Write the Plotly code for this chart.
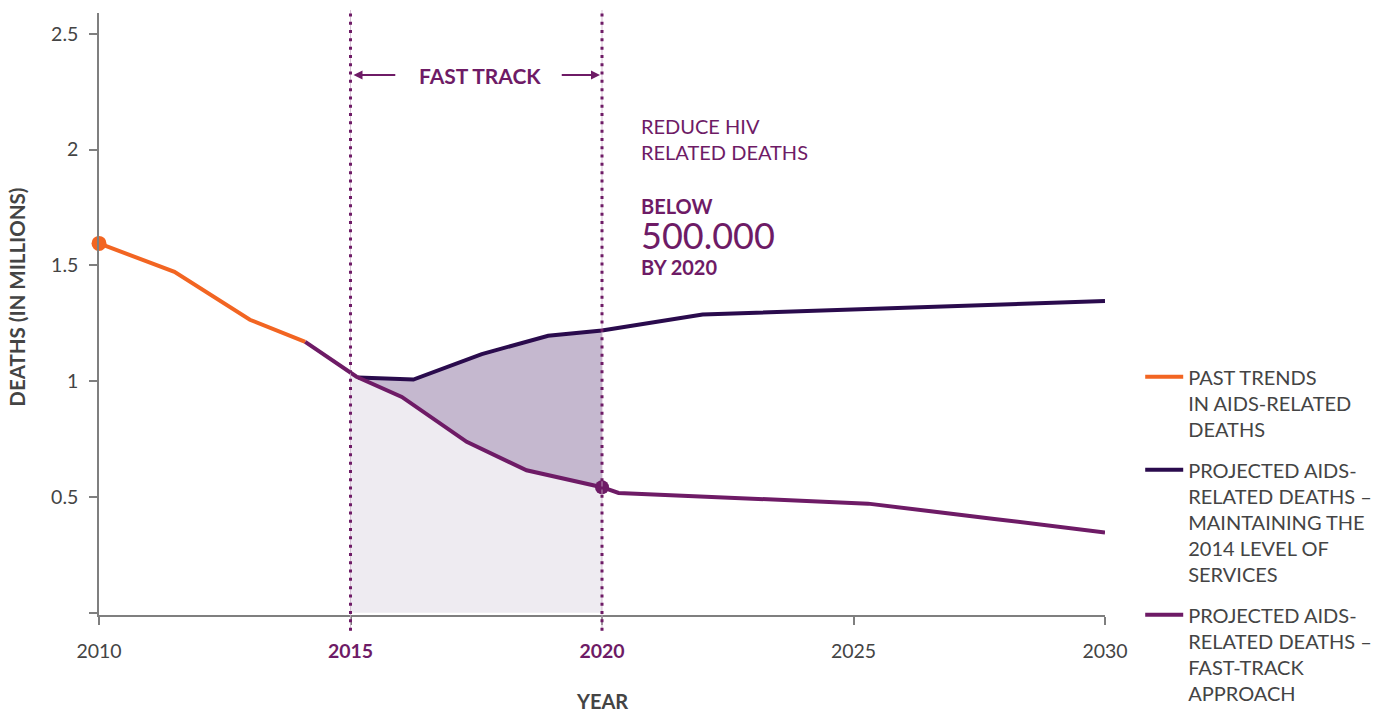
import numpy as np
import plotly.graph_objects as go

# ---- data ----
past_years = [2010.0, 2011.5, 2013.0, 2014.1]
past_deaths = [1.595, 1.472, 1.265, 1.170]

maintain_years = [2015.15, 2016.25, 2017.61, 2018.93, 2020.0, 2022.0, 2030.0]
maintain_deaths = [1.016, 1.007, 1.117, 1.196, 1.219, 1.288, 1.346]

fast_years = [2014.1, 2015.12, 2016.02, 2017.31, 2018.5, 2020.0, 2020.33, 2025.29, 2027.8, 2030.0]
fast_deaths = [1.170, 1.019, 0.932, 0.738, 0.615, 0.542, 0.517, 0.471, 0.405, 0.346]

x_tick_vals = [2010, 2015, 2020, 2025, 2030]
x_tick_labels = ["2010", "2015", "2020", "2025", "2030"]
y_tick_vals = [0, 0.5, 1, 1.5, 2, 2.5]
y_tick_text = ["", "0.5", "1", "1.5", "2", "2.5"]

fast_track_start, fast_track_end = 2015, 2020

# ---- styles ----
ORANGE = "#f26522"
NAVY = "#2a0b4d"
PURPLE = "#6e1b66"
FILL_DARK = "#c5b8cf"
FILL_LIGHT = "#eeebf1"
GREY = "#7f7f7f"
TEXT = "#444444"
FONT = "Lato"

fx = np.array(fast_years)
fy = np.array(fast_deaths)
mx = np.array(maintain_years)
my = np.array(maintain_deaths)

# light area under the fast-track curve, clipped to the fast-track window
inside = (fx > fast_track_start) & (fx <= fast_track_end)
lx = np.concatenate([[fast_track_start], fx[inside], [fast_track_end, fast_track_start]])
ly = np.concatenate([[np.interp(fast_track_start, fx, fy)], fy[inside], [0, 0]])

# dark area between the two projections inside the window
m_in = mx <= fast_track_end
f_in = (fx >= mx[0] - 0.05) & (fx <= fast_track_end)
dx = np.concatenate([mx[m_in], fx[f_in][::-1]])
dy = np.concatenate([my[m_in], fy[f_in][::-1]])

fig = go.Figure()
fig.add_trace(go.Scatter(x=lx, y=ly, fill="toself", fillcolor=FILL_LIGHT, mode="none",
                         showlegend=False, hoverinfo="skip"))
fig.add_trace(go.Scatter(x=dx, y=dy, fill="toself", fillcolor=FILL_DARK, mode="none",
                         showlegend=False, hoverinfo="skip"))
fig.add_trace(go.Scatter(x=past_years, y=past_deaths, mode="lines", line=dict(color=ORANGE, width=4),
                         name="PAST TRENDS<br>IN AIDS-RELATED<br>DEATHS", legendgroup="a"))
fig.add_trace(go.Scatter(x=maintain_years, y=maintain_deaths, mode="lines", line=dict(color=NAVY, width=4),
                         name="PROJECTED AIDS-<br>RELATED DEATHS –<br>MAINTAINING THE<br>2014 LEVEL OF<br>SERVICES",
                         legendgroup="b"))
fig.add_trace(go.Scatter(x=fast_years, y=fast_deaths, mode="lines", line=dict(color=PURPLE, width=4),
                         name="PROJECTED AIDS-<br>RELATED DEATHS –<br>FAST-TRACK<br>APPROACH",
                         legendgroup="c"))
fig.add_trace(go.Scatter(x=[past_years[0]], y=[past_deaths[0]], mode="markers",
                         marker=dict(color=ORANGE, size=15), showlegend=False, cliponaxis=False))
fig.add_trace(go.Scatter(x=[fast_years[5]], y=[fast_deaths[5]], mode="markers",
                         marker=dict(color=PURPLE, size=14), showlegend=False, cliponaxis=False))

shapes = []
for xv in (fast_track_start, fast_track_end):
    shapes.append(dict(type="line", xref="x", yref="paper", x0=xv, x1=xv, y0=-0.026, y1=1.005,
                       line=dict(color="#cdb3ca", width=0.8)))
    shapes.append(dict(type="line", xref="x", yref="paper", x0=xv, x1=xv, y0=-0.026, y1=1.005,
                       line=dict(color=PURPLE, width=3, dash="3px,5.3px")))

annotations = [
    dict(text="<b>FAST TRACK</b>", xref="x", yref="paper", x=2017.57, y=0.897,
         xanchor="center", yanchor="middle", showarrow=False,
         font=dict(family=FONT, size=21, color=PURPLE)),
    dict(text="", xref="x", yref="paper", x=2015.06, y=0.897, axref="x", ayref="pixel",
         ax=2015.92, ay=0, showarrow=True, arrowhead=2, arrowsize=0.9, arrowwidth=2,
         arrowcolor=PURPLE, standoff=0),
    dict(text="", xref="x", yref="paper", x=2019.96, y=0.897, axref="x", ayref="pixel",
         ax=2019.17, ay=0, showarrow=True, arrowhead=2, arrowsize=0.9, arrowwidth=2,
         arrowcolor=PURPLE, standoff=0),
    dict(text="REDUCE HIV<br>RELATED DEATHS", xref="x", yref="paper", x=2020.74, y=0.7906,
         xanchor="left", yanchor="middle", align="left", showarrow=False,
         font=dict(family=FONT, size=20, color=PURPLE)),
    dict(text="<b>BELOW</b>", xref="x", yref="paper", x=2020.74, y=0.6789,
         xanchor="left", yanchor="middle", showarrow=False,
         font=dict(family=FONT, size=20, color=PURPLE)),
    dict(text="500.000", xref="x", yref="paper", x=2020.74, y=0.6307,
         xanchor="left", yanchor="middle", showarrow=False,
         font=dict(family=FONT, size=36, color=PURPLE)),
    dict(text="<b>BY 2020</b>", xref="x", yref="paper", x=2020.74, y=0.5775,
         xanchor="left", yanchor="middle", showarrow=False,
         font=dict(family=FONT, size=20, color=PURPLE)),
    dict(text="<b>DEATHS (IN MILLIONS)</b>", xref="paper", yref="paper", x=-0.081, y=0.528,
         xanchor="center", yanchor="middle",
         textangle=-90, showarrow=False, font=dict(family=FONT, size=20.5, color=TEXT)),
    dict(text="<b>YEAR</b>", xref="paper", yref="paper", x=0.5, y=-0.143,
         xanchor="center", yanchor="middle",
         showarrow=False, font=dict(family=FONT, size=20, color=TEXT)),
]

highlight = "<b><span style='color:%s'>%s</span></b>"
x_tick_text = [highlight % (PURPLE, lab) if v in (fast_track_start, fast_track_end) else lab
               for v, lab in zip(x_tick_vals, x_tick_labels)]

fig.update_layout(
    width=1399, height=713,
    margin=dict(l=99, r=294, t=13, b=98.3, autoexpand=False),
    paper_bgcolor="white", plot_bgcolor="white",
    font=dict(family=FONT, size=19, color=TEXT),
    shapes=shapes, annotations=annotations,
    showlegend=True,
    legend=dict(x=1.035, y=0.428, xanchor="left", yanchor="top", valign="top",
                tracegroupgap=12, font=dict(family=FONT, size=20, color=TEXT),
                itemwidth=38, bgcolor="rgba(0,0,0,0)"),
    xaxis=dict(range=[2010, 2030], tickvals=x_tick_vals, ticktext=x_tick_text,
               showgrid=False, zeroline=False, showline=True, linecolor=GREY, linewidth=1.5,
               ticks="outside", ticklen=8, tickwidth=1.5, tickcolor=GREY,
               tickfont=dict(family=FONT, size=19.5, color=TEXT), ticklabelstandoff=10),
    yaxis=dict(range=[-0.01, 2.59], tickvals=y_tick_vals, ticktext=y_tick_text,
               showgrid=False, zeroline=False, showline=True, linecolor=GREY, linewidth=1.5,
               ticks="outside", ticklen=8, tickwidth=1.5, tickcolor=GREY,
               tickfont=dict(family=FONT, size=19.5, color=TEXT), ticklabelstandoff=7),
)

fig.write_html("out.html", config={"displayModeBar": False},
               post_script="document.body.style.margin='0';")
